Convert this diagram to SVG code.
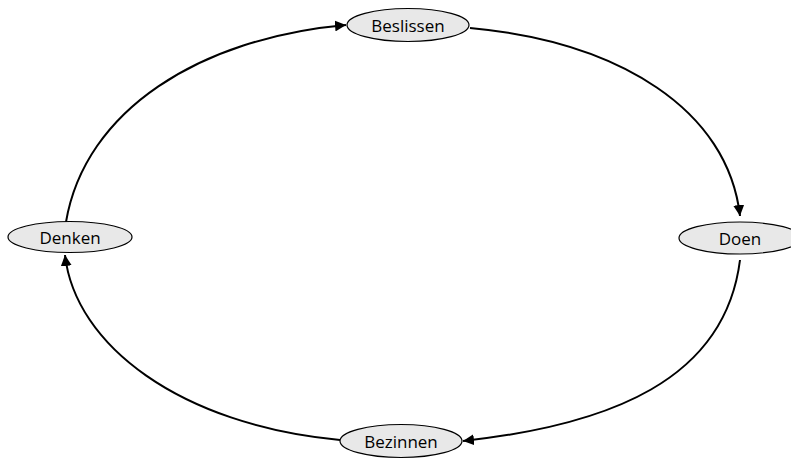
<svg xmlns="http://www.w3.org/2000/svg" width="791" height="463" viewBox="0 0 791 463">
<style>
.node ellipse{fill:#e8e8e8;stroke:#000;stroke-width:1.2}
.node text{font-family:"Open Sans","DejaVu Sans",sans-serif;font-size:17px;fill:#000;text-anchor:middle;dominant-baseline:central}
.edge{fill:none;stroke:#000;stroke-width:2;marker-end:url(#arr)}
</style>
<defs>
<marker id="arr" viewBox="0 0 10 10" refX="10" refY="5" markerWidth="5.5" markerHeight="5.5" orient="auto" markerUnits="strokeWidth">
<path d="M0,0 L10,5 L0,10 z" fill="#000"/>
</marker>
</defs>
<rect width="791" height="463" fill="#fff"/>
<g id="connectors">
<path class="edge" d="M470,28 C620,42 728,110 740,216"/>
<path class="edge" d="M740,260 C725,380 610,425 463,441"/>
<path class="edge" d="M340,440 C180,425 75,345 65,255"/>
<path class="edge" d="M66,222 C85,110 200,38 346,25"/>
</g>
<g id="beslissen" class="node"><ellipse cx="408" cy="25" rx="61" ry="16.5"/><text x="408" y="25">Beslissen</text></g>
<g id="denken" class="node"><ellipse cx="70" cy="237" rx="62" ry="15.5"/><text x="70" y="237">Denken</text></g>
<g id="doen" class="node"><ellipse cx="740" cy="238" rx="61" ry="16"/><text x="740" y="238">Doen</text></g>
<g id="bezinnen" class="node"><ellipse cx="401" cy="441" rx="61" ry="16.5"/><text x="401" y="441">Bezinnen</text></g>
</svg>
